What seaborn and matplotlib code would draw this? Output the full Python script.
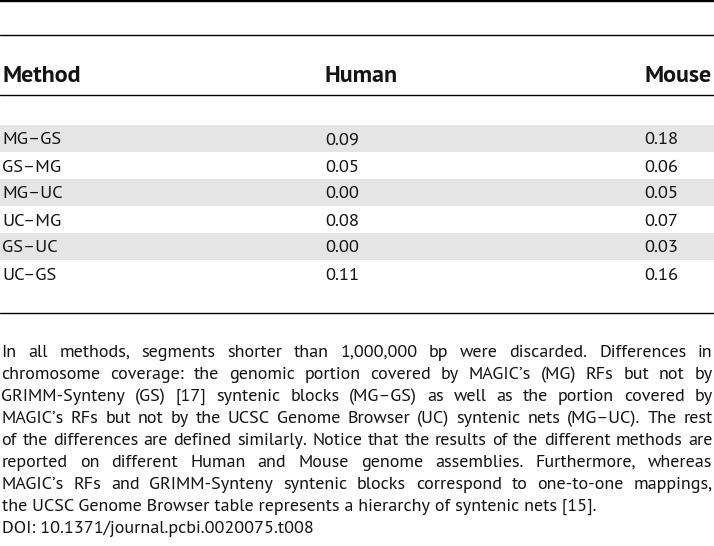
import os
import matplotlib
matplotlib.use("Agg")
import matplotlib.pyplot as plt
from matplotlib import font_manager as fm
import seaborn as sns

# ---------------- data ----------------
columns = ["Method", "Human", "Mouse"]
methods = ["MG–GS", "GS–MG", "MG–UC", "UC–MG", "GS–UC", "UC–GS"]
human = [0.09, 0.05, 0.00, 0.08, 0.00, 0.11]
mouse = [0.18, 0.06, 0.05, 0.07, 0.03, 0.16]
footnote_lines = [
    "In all methods, segments shorter than 1,000,000 bp were discarded. Differences in",
    "chromosome coverage: the genomic portion covered by MAGIC’s (MG) RFs but not by",
    "GRIMM-Synteny (GS) [17] syntenic blocks (MG–GS) as well as the portion covered by",
    "MAGIC’s RFs but not by the UCSC Genome Browser (UC) syntenic nets (MG–UC). The rest",
    "of the differences are defined similarly. Notice that the results of the different methods are",
    "reported on different Human and Mouse genome assemblies. Furthermore, whereas",
    "MAGIC’s RFs and GRIMM-Synteny syntenic blocks correspond to one-to-one mappings,",
    "the UCSC Genome Browser table represents a hierarchy of syntenic nets [15].",
]
doi_text = "DOI: 10.1371/journal.pcbi.0020075.t008"

# ---------------- style ----------------
sns.set_theme(style="white")

W, H = 714, 546
fig = plt.figure(figsize=(W / 100, H / 100), dpi=100)
ax = fig.add_axes([0, 0, 1, 1])
ax.set_xlim(0, W)
ax.set_ylim(H, 0)
ax.axis("off")

txt_color = "#141414"
fig.canvas.draw()
renderer = fig.canvas.get_renderer()

def tw(s, fp):
    w, h, d = renderer.get_text_width_height_descent(s, fp, ismath=False)
    return w

def cap(fp):
    w, h, d = renderer.get_text_width_height_descent("H", fp, ismath=False)
    return h - d

def static_files(name):
    out = {}
    for f in fm.fontManager.ttflist:
        if f.name == name and f.style == "normal" and "[" not in os.path.basename(f.fname):
            out.setdefault(f.weight, f.fname)
    return out

reg_path = bold_path = None
for name in ["Source Sans Pro", "PT Sans", "Hind", "Lato"]:
    files = static_files(name)
    r = files.get(400) or files.get("normal") or files.get("regular")
    b = files.get(700) or files.get("bold")
    if r and b:
        reg_path, bold_path = r, b
        break

if reg_path:
    base_reg = dict(fname=reg_path)
    base_bold = dict(fname=bold_path)
else:
    base_reg = dict(family=["DejaVu Sans"])
    base_bold = dict(family=["DejaVu Sans"], weight="bold")

TARGET_CAP = 13.3
fp0 = fm.FontProperties(size=14.0, **base_reg)
fs_cap = 14.0 * TARGET_CAP / cap(fp0)
fs_fit = 14.0 * 709 / max(tw(l, fp0) for l in footnote_lines)
fs = min(fs_cap, fs_fit)
fp_body = fm.FontProperties(size=fs, **base_reg)
fp_cell = fm.FontProperties(size=fs_cap, **base_reg)
# header: bold, sized so "Method" spans ~79 px
fp_h0 = fm.FontProperties(size=14.0, **base_bold)
hs = 14.0 * 79 / tw("Method", fp_h0)
fp_head = fm.FontProperties(size=hs, **base_bold)

# ---------------- table ----------------
col_x = [2, 325, 644]
row_top0, row_h = 125, 27
for i in range(len(methods)):
    top = row_top0 + i * row_h
    if i % 2 == 0:
        ax.axhspan(top, top + row_h, color="#e5e5e5", lw=0, zorder=0)
    base = top + 19.5
    ax.text(col_x[0], base, methods[i], fontproperties=fp_cell, color=txt_color, va="baseline", ha="left")
    ax.text(col_x[1], base, f"{human[i]:.2f}", fontproperties=fp_cell, color=txt_color, va="baseline", ha="left")
    ax.text(col_x[2], base, f"{mouse[i]:.2f}", fontproperties=fp_cell, color=txt_color, va="baseline", ha="left")

for x, c in zip(col_x, columns):
    ax.text(x, 81.5, c, fontproperties=fp_head, color=txt_color, va="baseline", ha="left")

ax.axhline(1.2, color="black", lw=1.7)
ax.axhline(34.5, color="black", lw=1.0)
ax.axhline(94.5, color="black", lw=1.0)
ax.axhline(313, color="black", lw=1.0)

# ---------------- footnote (justified) ----------------
left, right = 1.5, 712.5
base0, pitch = 357, 22
for k, line in enumerate(footnote_lines):
    y = base0 + k * pitch
    words = line.split(" ")
    if k == len(footnote_lines) - 1:
        ax.text(left, y, line, fontproperties=fp_body, color=txt_color, va="baseline", ha="left")
        continue
    widths = [tw(w_, fp_body) for w_ in words]
    gap = (right - left - sum(widths)) / (len(words) - 1)
    x = left
    for w_, wd in zip(words, widths):
        ax.text(x, y, w_, fontproperties=fp_body, color=txt_color, va="baseline", ha="left")
        x += wd + gap
ax.text(left, base0 + len(footnote_lines) * pitch, doi_text, fontproperties=fp_body,
        color=txt_color, va="baseline", ha="left")

fig.savefig("out.png", dpi=100)
